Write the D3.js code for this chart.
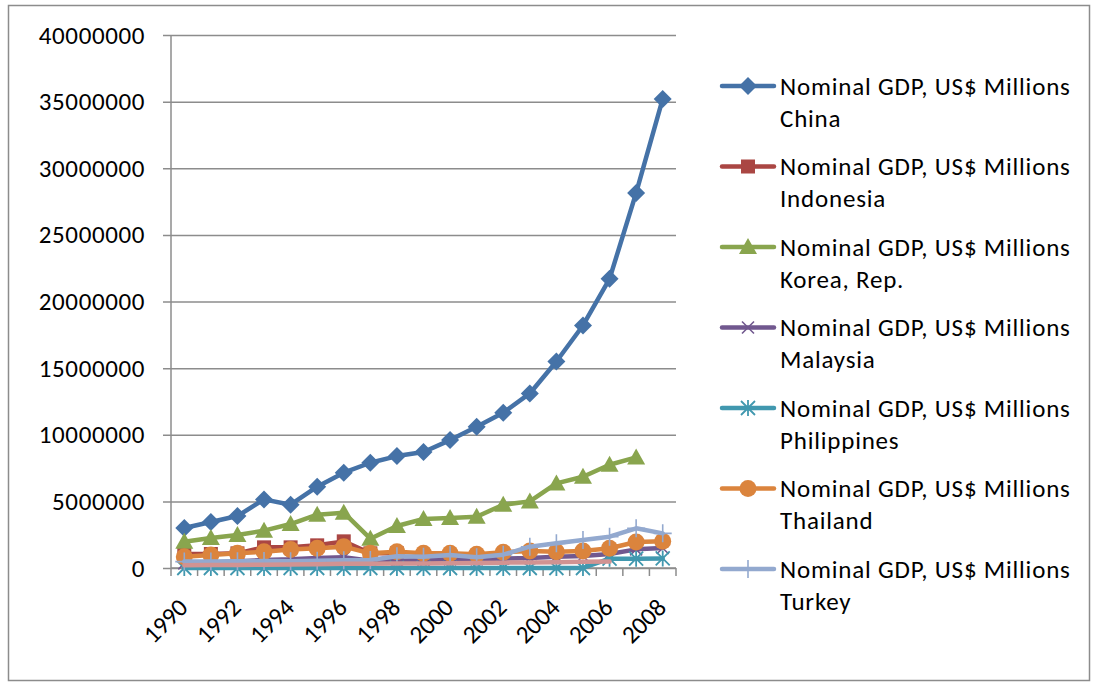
<!DOCTYPE html>
<html>
<head>
<meta charset="utf-8">
<script src="https://cdn.jsdelivr.net/npm/d3@7/dist/d3.min.js"></script>
<style>
  html, body { margin: 0; padding: 0; background: #fff; }
  svg { display: block; }
  text { font-family: Carlito, Calibri, Lato, "Open Sans", sans-serif; fill: #000; }
</style>
</head>
<body>
<svg id="chart" width="1096" height="684"></svg>
<script>
// ---- data ----
const years = [1990,1991,1992,1993,1994,1995,1996,1997,1998,1999,2000,2001,2002,2003,2004,2005,2006,2007,2008];
const yTicks = [0,5000000,10000000,15000000,20000000,25000000,30000000,35000000,40000000];
const xLabelYears = [1990,1992,1994,1996,1998,2000,2002,2004,2006,2008];

const china       = [3000000,3450000,3900000,5150000,4750000,6100000,7150000,7900000,8400000,8700000,9600000,10600000,11650000,13100000,15500000,18200000,21700000,28150000,35200000];
const indonesia   = [1050000,1050000,1100000,1550000,1550000,1700000,2000000,1100000,1100000,null,null,null,null,null,null,null,null,null,null];
const korea       = [1970000,2250000,2480000,2800000,3300000,4000000,4150000,2200000,3150000,3680000,3750000,3850000,4750000,5000000,6350000,6850000,7750000,8300000,null];
const malaysia    = [350000,400000,500000,600000,650000,750000,800000,550000,550000,600000,650000,650000,700000,750000,850000,900000,1050000,1400000,1500000];
const philippines = [0,0,0,0,0,0,0,0,0,0,0,0,0,0,0,0,700000,700000,720000];
const thailand    = [850000,980000,1100000,1220000,1380000,1480000,1600000,1100000,1220000,1100000,1100000,1030000,1180000,1280000,1220000,1280000,1480000,1950000,2000000];
const turkey      = [480000,480000,500000,520000,500000,550000,580000,600000,880000,850000,980000,800000,1000000,1600000,1850000,2100000,2350000,2980000,2600000];
const unlabelled  = [200000,220000,230000,250000,270000,290000,310000,320000,330000,340000,360000,380000,400000,420000,440000,460000,480000,null,null];

const seriesNames = ["Nominal GDP, US$ Millions China","Nominal GDP, US$ Millions Indonesia","Nominal GDP, US$ Millions Korea, Rep.","Nominal GDP, US$ Millions Malaysia","Nominal GDP, US$ Millions Philippines","Nominal GDP, US$ Millions Thailand","Nominal GDP, US$ Millions Turkey",""];
const seriesValues = [china, indonesia, korea, malaysia, philippines, thailand, turkey, unlabelled];
const seriesColors = ["#4572A7","#AA4643","#89A54E","#71588F","#4198AF","#DB843D","#93A9CF","#D19392"];
const seriesMarkers = ["diamond","square","triangle","x","star","circle","plus","none"];

// ---- layout ----
const FS = 25;
const svg = d3.select("#chart");
const plot = {left: 171, right: 676, top: 35, bottom: 568};
const x = d3.scaleBand().domain(years).range([plot.left, plot.right]);
const y = d3.scaleLinear().domain([0, 40000000]).range([plot.bottom, plot.top]);
const cx = d => x(d) + x.bandwidth() / 2;

// outer frame
svg.append("rect").attr("x", 8.5).attr("y", 5.5).attr("width", 1081).attr("height", 675)
  .attr("fill", "#fff").attr("stroke", "#8c8c8c").attr("stroke-width", 1.5);

// gridlines + y axis
const yAxis = d3.axisLeft(y).tickValues(yTicks).tickSize(plot.right - plot.left + 8)
  .tickFormat(d3.format("d"));
const gy = svg.append("g").attr("transform", `translate(${plot.right},0)`).call(yAxis);
gy.select(".domain").remove();
gy.selectAll(".tick line").attr("stroke", "#8c8c8c").attr("stroke-width", 1.5);
gy.selectAll(".tick text").attr("font-size", FS).attr("letter-spacing", 0.6)
  .attr("x", -(plot.right - plot.left) - 26);

// y axis line
svg.append("line").attr("x1", plot.left).attr("x2", plot.left).attr("y1", plot.top).attr("y2", plot.bottom + 1)
  .attr("stroke", "#8c8c8c").attr("stroke-width", 1.5);

// x axis line & ticks (between categories)
svg.append("line").attr("x1", plot.left).attr("x2", plot.right).attr("y1", plot.bottom).attr("y2", plot.bottom)
  .attr("stroke", "#8c8c8c").attr("stroke-width", 1.5);
const boundaries = years.map(d => x(d)).concat([plot.right]);
svg.append("g").selectAll("line").data(boundaries).join("line")
  .attr("x1", d => d).attr("x2", d => d).attr("y1", plot.bottom).attr("y2", plot.bottom + 8)
  .attr("stroke", "#8c8c8c").attr("stroke-width", 1.5);

// x labels rotated
svg.append("g").selectAll("text").data(xLabelYears).join("text")
  .attr("transform", d => `translate(${cx(d) + 5},${plot.bottom + 41}) rotate(-45)`)
  .attr("text-anchor", "end").attr("font-size", FS)
  .text(d => d);

// markers
function drawMarker(g, type, color, px, py) {
  const s = g.append("g").attr("transform", `translate(${px},${py})`);
  switch (type) {
    case "diamond":
      s.append("path").attr("d", "M0,-9L9,0L0,9L-9,0Z").attr("fill", color); break;
    case "square":
      s.append("rect").attr("x", -7).attr("y", -7).attr("width", 14).attr("height", 14).attr("fill", color); break;
    case "triangle":
      s.append("path").attr("d", "M0,-9L9,7L-9,7Z").attr("fill", color); break;
    case "circle":
      s.append("circle").attr("r", 8.5).attr("fill", color); break;
    case "x":
      s.append("path").attr("d", "M-6,-6L6,6M-6,6L6,-6").attr("stroke", color).attr("stroke-width", 1.6).attr("fill", "none"); break;
    case "star":
      s.append("path").attr("d", "M-7,-7L7,7M-7,7L7,-7M0,-8L0,8").attr("stroke", color).attr("stroke-width", 1.8).attr("fill", "none"); break;
    case "plus":
      s.append("path").attr("d", "M0,-9L0,9M-9,0L9,0").attr("stroke", color).attr("stroke-width", 1.6).attr("fill", "none"); break;
  }
}

const line = d3.line().defined(d => d.v !== null).x(d => cx(d.year)).y(d => y(d.v));
const series = svg.append("g");
seriesValues.forEach((vals, i) => {
  const pts = years.map((yr, j) => ({year: yr, v: vals[j]}));
  const g = series.append("g");
  g.append("path").datum(pts).attr("d", line).attr("fill", "none")
    .attr("stroke", seriesColors[i]).attr("stroke-width", 4.5)
    .attr("stroke-linejoin", "round").attr("stroke-linecap", "round");
  pts.filter(p => p.v !== null).forEach(p => drawMarker(g, seriesMarkers[i], seriesColors[i], cx(p.year), y(p.v)));
});

// legend
const legend = svg.append("g");
seriesNames.forEach((name, i) => {
  if (!name) return;
  const ly = 86 + i * 80.5;
  const g = legend.append("g");
  g.append("line").attr("x1", 722).attr("x2", 774).attr("y1", ly).attr("y2", ly)
    .attr("stroke", seriesColors[i]).attr("stroke-width", 4.5).attr("stroke-linecap", "round");
  drawMarker(g, seriesMarkers[i], seriesColors[i], 748, ly);
  const parts = name.split(" Millions ");
  const t = g.append("text").attr("x", 780).attr("y", ly).attr("font-size", FS)
    .attr("letter-spacing", 0.8).attr("dy", "0.35em");
  t.append("tspan").attr("x", 780).text(parts[0] + " Millions");
  t.append("tspan").attr("x", 780).attr("dy", 32).text(parts[1]);
});
</script>
</body>
</html>
